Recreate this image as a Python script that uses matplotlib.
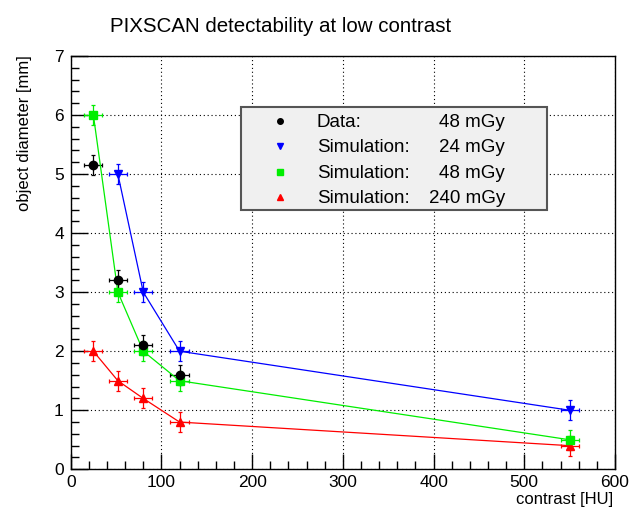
#!/usr/bin/env python3
"""PIXSCAN detectability at low contrast (ROOT-style graph)."""

import matplotlib
matplotlib.use('Agg')
import matplotlib.pyplot as plt
from matplotlib.lines import Line2D
from matplotlib.patches import Rectangle
from matplotlib.ticker import MultipleLocator

plt.rcParams['font.family'] = ['Liberation Sans', 'DejaVu Sans']

# Data
data_x = [25, 52, 80, 120]
data_y = [5.15, 3.2, 2.1, 1.6]

contrast = [25, 52, 80, 120, 550]
sim24_x = [52, 80, 120, 550]
sim24_y = [5.0, 3.0, 2.0, 1.0]
sim48_y = [6.0, 3.0, 2.0, 1.5, 0.5]
sim240_y = [2.0, 1.5, 1.2, 0.8, 0.4]

x_err = 10
y_err = 0.17

legend_names = ['Data:', 'Simulation:', 'Simulation:', 'Simulation:']
legend_doses = ['48 mGy', '24 mGy', '48 mGy', '240 mGy']

W, H = 629, 509


def fx(px):
    return px / W


def fy(py):
    return 1 - py / H


def main():
    fig = plt.figure(figsize=(W / 100, H / 100), dpi=100)
    left, right, top, bottom = 70.7, 615, 56, 469.3
    ax = fig.add_axes([fx(left), fy(bottom), (right - left) / W, (bottom - top) / H])

    style = dict(capsize=1.5, elinewidth=0.9, capthick=0.9, lw=0.9, ms=6)
    ax.errorbar(sim24_x, sim24_y, xerr=x_err, yerr=y_err, color='#0000ff',
                marker='v', ls='-', **style)
    ax.errorbar(contrast, sim240_y, xerr=x_err, yerr=y_err, color='#ff0000',
                marker='^', ls='-', **style)
    ax.errorbar(contrast, sim48_y, xerr=x_err, yerr=y_err, color='#00ee00',
                marker='s', ls='-', **dict(style, ms=5.5))
    ax.errorbar(data_x, data_y, xerr=x_err, yerr=y_err, color='black',
                marker='o', ls='none', **style)

    ax.set_xlim(0, 600)
    ax.set_ylim(0, 7)
    ax.xaxis.set_major_locator(MultipleLocator(100))
    ax.xaxis.set_minor_locator(MultipleLocator(20))
    ax.yaxis.set_major_locator(MultipleLocator(1))
    ax.yaxis.set_minor_locator(MultipleLocator(0.2))
    ax.tick_params(which='both', direction='in', top=False, right=False,
                   labelsize=12.5, width=1)
    ax.tick_params(axis='x', which='major', length=11, pad=4)
    ax.tick_params(axis='x', which='minor', length=5.5)
    ax.tick_params(axis='y', which='major', length=12, pad=5)
    ax.tick_params(axis='y', which='minor', length=6)
    ax.grid(True, which='major', color='black', ls=(0, (1, 2.5)), lw=0.8)
    ax.set_axisbelow(True)
    for s in ax.spines.values():
        s.set_linewidth(1)

    fig.text(fx(281), fy(32), 'PIXSCAN detectability at low contrast',
             ha='center', va='baseline', fontsize=14.8)
    fig.text(fx(613), fy(504), 'contrast [HU]', ha='right', va='baseline',
             fontsize=12)
    fig.text(fx(25), fy(55), 'object diameter [mm]', ha='center', va='top',
             rotation=90, fontsize=12)

    # Legend box (ROOT TLegend look)
    fig.add_artist(Rectangle((fx(241), fy(210)), (547 - 241) / W, (210 - 107) / H,
                             transform=fig.transFigure, facecolor='#f0f0f0',
                             edgecolor='#555555', lw=1.5, zorder=5))
    rows = [120.5, 145.5, 171.5, 197]
    marks = [('o', 'black', 4), ('v', '#0000ff', 4), ('s', '#00ee00', 4), ('^', '#ff0000', 4)]
    for ry, (m, c, ms), name, dose in zip(rows, marks, legend_names, legend_doses):
        fig.add_artist(Line2D([fx(280)], [fy(ry)], transform=fig.transFigure,
                              marker=m, color=c, ms=ms, ls='none', zorder=6))
        fig.text(fx(317), fy(ry), name, ha='left', va='center_baseline',
                 fontsize=13.5, zorder=6)
        fig.text(fx(505), fy(ry), dose, ha='right', va='center_baseline',
                 fontsize=13.5, zorder=6)

    fig.savefig('out.png', dpi=100)


if __name__ == '__main__':
    main()
